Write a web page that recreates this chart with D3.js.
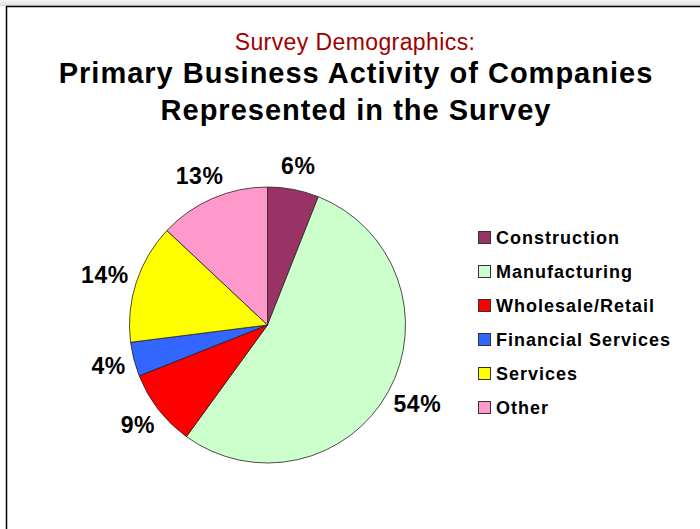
<!DOCTYPE html>
<html>
    <head>
        <title>Survey Demographics</title>
        <meta charset="UTF-8">
        <script src="https://d3js.org/d3.v7.min.js"></script>
        <style>
            body { margin:0; background:#fff; }
            text { font-family: Arial, "Liberation Sans", sans-serif; }
        </style>
    </head>
    <body>
        <script>
            var w = 700, h = 529;

            var categories = ["Construction","Manufacturing","Wholesale/Retail","Financial Services","Services","Other"];
            var values = [6,54,9,4,14,13];
            var colors = ["#993366","#CCFFCC","#FF0000","#3366FF","#FFFF00","#FF99CC"];
            var titleLines = ["Primary Business Activity of Companies","Represented in the Survey"];

            var svg = d3.select("body").append("svg")
                    .attr("width",w)
                    .attr("height",h);

            // frame shadow + border
            var grad = svg.append("defs").append("linearGradient")
                    .attr("id","shade").attr("x1",0).attr("y1",0).attr("x2",0).attr("y2",1);
            grad.append("stop").attr("offset","0%").attr("stop-color","#f7f7f7");
            grad.append("stop").attr("offset","100%").attr("stop-color","#dcdcdc");
            svg.append("rect").attr("x",0).attr("y",0).attr("width",w).attr("height",6).attr("fill","url(#shade)");
            svg.append("path")
                    .attr("d","M6.5,"+h+" V6.5 H"+w)
                    .attr("fill","none")
                    .attr("stroke","#000")
                    .attr("stroke-width",1.5);

            // titles
            svg.append("text")
                    .attr("x",355).attr("y",50)
                    .attr("text-anchor","middle")
                    .attr("font-size",23)
                    .attr("letter-spacing",0.4)
                    .attr("fill","#a00000")
                    .text("Survey Demographics:");
            svg.selectAll("text.title")
                    .data(titleLines)
                    .enter()
                    .append("text")
                    .attr("class","title")
                    .attr("x",356)
                    .attr("y",function(d,i){return 83+i*37;})
                    .attr("text-anchor","middle")
                    .attr("font-size",29)
                    .attr("font-weight","bold")
                    .attr("letter-spacing",1)
                    .text(function(d){return d;});

            // pie
            var cx = 267.5, cy = 325, r = 138;
            var pie = d3.pie().sort(null).value(function(d){return d;});
            var arcs = pie(values);
            var arc = d3.arc().innerRadius(0).outerRadius(r);
            var g = svg.append("g").attr("transform","translate("+cx+","+cy+")");

            g.selectAll("path")
                    .data(arcs)
                    .enter()
                    .append("path")
                    .attr("d",arc)
                    .attr("fill",function(d,i){return colors[i];})
                    .attr("stroke","#222")
                    .attr("stroke-width",0.8);

            var total = d3.sum(values);
            var R = 150, lh = 17;
            function pct(d){ return Math.round(d.data/total*100)+"%"; }
            g.selectAll("text.pct")
                    .data(arcs)
                    .enter()
                    .append("text")
                    .attr("class","pct")
                    .attr("x",function(d){
                        var a = (d.startAngle+d.endAngle)/2;
                        var bw = pct(d).length*14;
                        return Math.sin(a)*R + Math.sin(a)*bw/2;
                    })
                    .attr("y",function(d){
                        var a = (d.startAngle+d.endAngle)/2;
                        return -Math.cos(a)*(R+4) - Math.cos(a)*lh/2 + lh/2;
                    })
                    .attr("text-anchor","middle")
                    .attr("font-size",23)
                    .attr("font-weight","bold")
                    .attr("letter-spacing",0.5)
                    .text(pct);

            // legend
            var legend = svg.selectAll("g.leg")
                    .data(categories)
                    .enter()
                    .append("g")
                    .attr("class","leg")
                    .attr("transform",function(d,i){return "translate(478,"+(244+i*34)+")";});
            legend.append("rect")
                    .attr("x",0.5).attr("y",-12.5)
                    .attr("width",12).attr("height",12)
                    .attr("fill",function(d,i){return colors[i];})
                    .attr("stroke","#333")
                    .attr("stroke-width",1);
            legend.append("text")
                    .attr("x",18).attr("y",0)
                    .attr("font-size",18)
                    .attr("font-weight","bold")
                    .attr("letter-spacing",1)
                    .text(function(d){return d;});
        </script>
    </body>
</html>
